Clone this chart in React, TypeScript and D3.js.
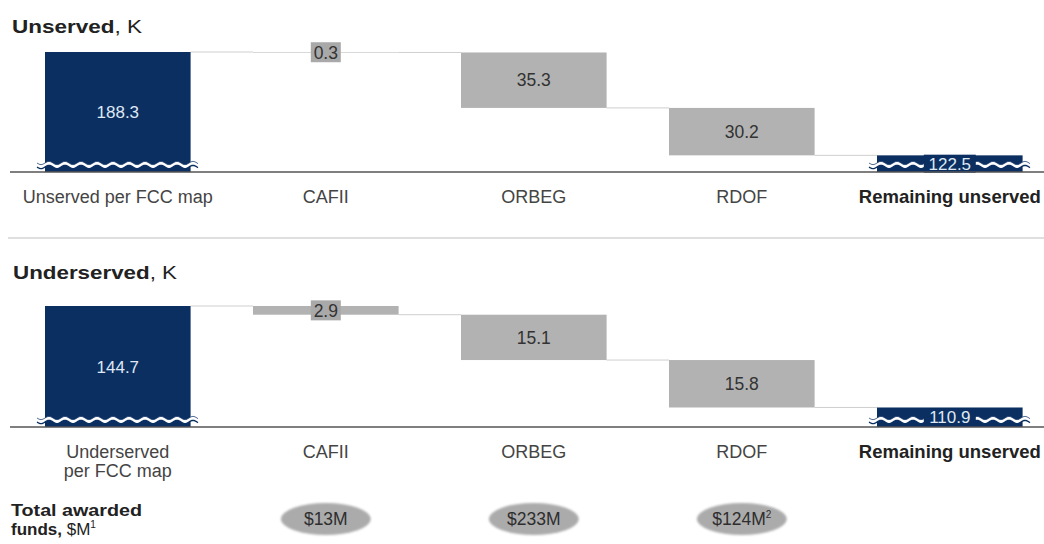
import React from "react";
import * as d3 from "d3";

const categoriesTop = ["Unserved per FCC map", "CAFII", "ORBEG", "RDOF", "Remaining unserved"];
const labelsTop = [["Unserved per FCC map"], ["CAFII"], ["ORBEG"], ["RDOF"], ["Remaining unserved"]];
const labelsBottom = [["Underserved", "per FCC map"], ["CAFII"], ["ORBEG"], ["RDOF"], ["Remaining unserved"]];
const kinds = ["total", "delta", "delta", "delta", "total"];
const unservedValues = [188.3, -0.3, -35.3, -30.2, 122.5];
const underservedValues = [144.7, -2.9, -15.1, -15.8, 110.9];
const unservedDomain = [111.9, 188.3];
const underservedDomain = [104.4, 144.7];
const fundCategories = ["CAFII", "ORBEG", "RDOF"];
const fundLabels = ["$13M", "$233M", "$124M"];
const fundNotes = ["", "", "2"];

const NAVY = "#0c2f62";
const GRAY = "#b2b2b2";
const FONT = "'Liberation Sans', Arial, sans-serif";

const x = d3.scaleBand().domain(categoriesTop).range([45, 1022.6]).paddingInner(0.3).paddingOuter(0);

function wave(x0: number, x1: number, yc: number, amp: number, period: number) {
  const pts: [number, number][] = [];
  for (let xx = x0; xx <= x1 + 0.01; xx += 1) {
    pts.push([xx, yc + amp * Math.sin(((xx - x0) / period) * Math.PI * 2)]);
  }
  return pts;
}

function BreakSymbol({ x0, x1, yc }: { x0: number; x1: number; yc: number }) {
  const top = wave(x0 - 8, x1 + 8, yc - 2, 1.6, 16);
  const bot = wave(x0 - 8, x1 + 8, yc + 2, 1.6, 16);
  const line = d3.line();
  const band = line(top.concat(bot.slice().reverse())) + "Z";
  return (
    <g>
      <path d={band} fill="#fff" />
      <path d={line(top) || ""} fill="none" stroke={NAVY} strokeWidth={1} opacity={0.7} />
      <path d={line(bot) || ""} fill="none" stroke={NAVY} strokeWidth={1.4} />
    </g>
  );
}

function Panel({ values, domain, baseY, topY, labels }: { values: number[]; domain: number[]; baseY: number; topY: number; labels: string[][] }) {
  const y = d3.scaleLinear().domain(domain).range([baseY, topY]);
  const bw = x.bandwidth();
  let running = 0;
  const bars = values.map((v, i) => {
    let a: number, b: number;
    if (kinds[i] === "total") {
      a = domain[0];
      b = v;
      running = v;
    } else {
      a = running;
      b = running + v;
      running = b;
    }
    return { cat: categoriesTop[i], kind: kinds[i], v, a, b, level: running };
  });
  return (
    <g>
      {bars.slice(0, -1).map((d, i) => {
        const next = bars[i + 1];
        const yy = y(d.level);
        const x0 = (x(d.cat) as number) + bw;
        const x1 = x(next.cat) as number;
        return <line key={"c" + i} x1={x0} x2={x1} y1={yy} y2={yy} stroke="#cfcfcf" strokeWidth={1} />;
      })}
      {bars.map((d, i) => {
        const x0 = x(d.cat) as number;
        const y0 = y(Math.max(d.a, d.b));
        const y1 = y(Math.min(d.a, d.b));
        const h = Math.max(0.5, y1 - y0);
        const cy = (y0 + y1) / 2;
        const cx = x0 + bw / 2;
        const isTotal = d.kind === "total";
        const label = Math.abs(d.v).toFixed(1);
        const small = h < 22;
        return (
          <g key={"b" + i}>
            <rect x={x0} y={y0} width={bw} height={h} fill={isTotal ? NAVY : GRAY} />
            {isTotal && <BreakSymbol x0={x0} x1={x0 + bw} yc={baseY - 7} />}
            {small && (
              <rect x={cx - (isTotal ? 26 : 15)} y={cy - (isTotal ? 9 : 10)} width={isTotal ? 52 : 30} height={isTotal ? 18 : 20} fill={isTotal ? NAVY : "#a9a9a9"} />
            )}
            <text x={cx} y={cy} dy="0.36em" textAnchor="middle" fontFamily={FONT} fontSize={isTotal ? 17 : 17.5} fill={isTotal ? "#dfe8f3" : "#333"}>
              {label}
            </text>
          </g>
        );
      })}
      <line x1={10} x2={1044} y1={baseY} y2={baseY} stroke="#555" strokeWidth={1.5} />
      {labels.map((lines, i) => {
        const cx = (x(categoriesTop[i]) as number) + bw / 2;
        const bold = i === labels.length - 1;
        return (
          <text key={"l" + i} x={cx} y={baseY + 31} textAnchor="middle" fontFamily={FONT} fontSize={bold ? 18.5 : 18} fontWeight={bold ? 700 : 400} fill={bold ? "#222" : "#444"}>
            {lines.map((ln, j) => (
              <tspan key={j} x={cx} dy={j === 0 ? 0 : 19}>
                {ln}
              </tspan>
            ))}
          </text>
        );
      })}
    </g>
  );
}

export default function App() {
  const bw = x.bandwidth();
  return (
    <svg width={1044} height={544} style={{ position: "absolute", left: 0, top: 0, background: "#fff" }}>
      <rect width={1044} height={544} fill="#fff" />
      <text x={12} y={33} fontFamily={FONT} fontSize={18.5} fill="#222" textLength={130} lengthAdjust="spacingAndGlyphs">
        <tspan fontWeight={700}>Unserved</tspan>
        <tspan>, K</tspan>
      </text>
      <Panel values={unservedValues} domain={unservedDomain} baseY={172} topY={52} labels={labelsTop} />
      <line x1={8} x2={1044} y1={238} y2={238} stroke="#d4d4d4" strokeWidth={1.5} />
      <text x={13} y={279} fontFamily={FONT} fontSize={18.5} fill="#222" textLength={164} lengthAdjust="spacingAndGlyphs">
        <tspan fontWeight={700}>Underserved</tspan>
        <tspan>, K</tspan>
      </text>
      <Panel values={underservedValues} domain={underservedDomain} baseY={427} topY={306} labels={labelsBottom} />
      <text x={11} y={516} fontFamily={FONT} fontSize={17} fontWeight={700} fill="#222" textLength={131} lengthAdjust="spacingAndGlyphs">
        Total awarded
      </text>
      <text x={11} y={535} fontFamily={FONT} fontSize={17} fill="#222">
        <tspan fontWeight={700}>funds,</tspan>
        <tspan> $M</tspan>
        <tspan fontSize={10} dy={-7}>1</tspan>
      </text>
      <defs>
        <filter id="soft" x="-10%" y="-20%" width="120%" height="140%">
          <feGaussianBlur stdDeviation="0.8" />
        </filter>
      </defs>
      {fundCategories.map((c, i) => {
        const cx = (x(c) as number) + bw / 2;
        return (
          <g key={c}>
            <ellipse cx={cx} cy={519} rx={45} ry={16} fill="#ababab" filter="url(#soft)" />
            <text x={cx} y={519} dy="0.36em" textAnchor="middle" fontFamily={FONT} fontSize={17.5} fill="#2e2e2e">
              {fundLabels[i]}
              {fundNotes[i] && (
                <tspan fontSize={10} dy={-7}>
                  {fundNotes[i]}
                </tspan>
              )}
            </text>
          </g>
        );
      })}
    </svg>
  );
}
